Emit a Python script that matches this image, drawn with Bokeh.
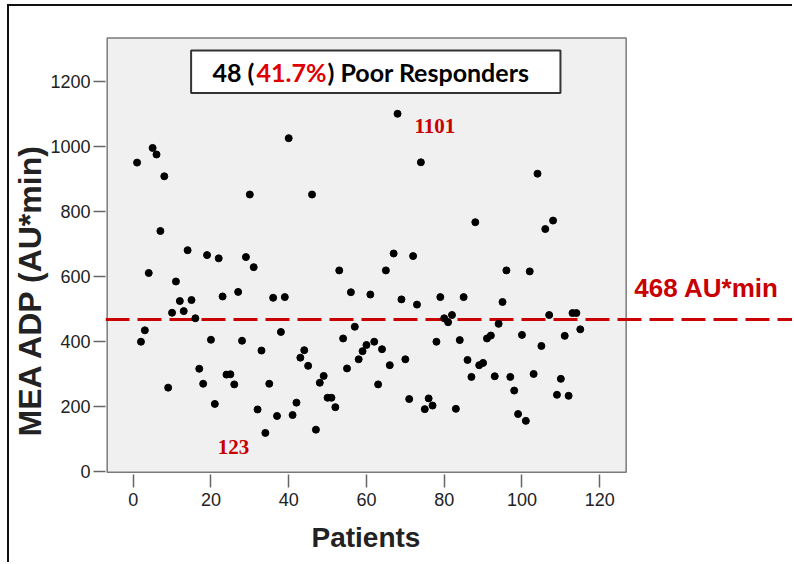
from bokeh.plotting import figure
from bokeh.models import (Range1d, FixedTicker, BoxAnnotation, Span, Label, Title)
from bokeh.embed import file_html
from bokeh.resources import INLINE

# ---------------- data ----------------
patients = list(range(1, 116))
mea_adp = [
    950, 400, 435, 611, 995, 975, 740, 908, 259, 489,
    585, 525, 494, 681, 528, 472, 317, 271, 666, 406,
    209, 656, 539, 299, 300, 269, 553, 403, 660, 852,
    629, 192, 373, 120, 271, 535, 172, 430, 537, 1025,
    175, 213, 351, 374, 326, 852, 130, 274, 295, 228,
    228, 199, 619, 410, 318, 552, 446, 346, 371, 390,
    545, 400, 269, 377, 619, 328, 671, 1100, 530, 346,
    224, 663, 514, 951, 193, 226, 204, 400, 537, 472,
    460, 482, 194, 405, 537, 344, 292, 767, 328, 335,
    410, 419, 294, 455, 522, 619, 292, 250, 178, 421,
    157, 616, 301, 916, 387, 746, 482, 772, 237, 286,
    418, 234, 488, 488, 438,
]
threshold = 468
x_ticks = [0, 20, 40, 60, 80, 100, 120]
y_ticks = [0, 200, 400, 600, 800, 1000, 1200]
title_parts = ["48 (", "41.7%", ") Poor Responders"]
threshold_label = "468 AU*min"
max_label = "1101"
min_label = "123"
x_title = "Patients"
y_title = "MEA ADP (AU*min)"

RED = "#c80000"

p = figure(width=785, height=558, output_backend="svg", toolbar_location=None,
           x_range=Range1d(-7.12, 170.1), y_range=Range1d(-7.7, 1340.3),
           min_border_left=96, min_border_right=0, min_border_top=29,
           min_border_bottom=90)
p.styles = {"margin-left": "7px", "margin-top": "4px",
            "border-left": "2px solid #111", "border-top": "2px solid #111"}
p.background_fill_color = "white"
p.border_fill_color = "white"
p.outline_line_color = None
p.xgrid.visible = False
p.ygrid.visible = False

# gray plotting area with frame
p.add_layout(BoxAnnotation(left=-6.69, right=126.8, bottom=-0.5, top=1333,
                           fill_color="#f0f0f0", fill_alpha=1.0,
                           line_color="#7a7a7a", line_alpha=1.0, line_width=1.5,
                           level="underlay"))

# threshold line
p.add_layout(Span(location=threshold, dimension="width", line_color=RED,
                  line_width=3, line_dash="24 8", level="underlay"))

p.scatter(patients, mea_adp, size=7, color="black")

for ax, ticks in ((p.xaxis, x_ticks), (p.yaxis, y_ticks)):
    ax.ticker = FixedTicker(ticks=ticks)
    ax.axis_line_color = None
    ax.major_tick_in = 0
    ax.minor_tick_line_color = None
    ax.major_tick_line_color = "#666666"
    ax.major_tick_line_width = 1.5
    ax.major_label_text_font = "Liberation Sans"
    ax.major_label_text_font_size = "18px"
    ax.major_label_text_color = "#222222"
p.xaxis.major_tick_out = 13
p.xaxis.major_label_standoff = 5
p.yaxis.major_tick_out = 12
p.yaxis.major_label_standoff = 3

# axis titles
p.add_layout(Title(text=x_title, align="left", offset=206, standoff=22,
                   text_font="Liberation Sans", text_font_style="bold",
                   text_font_size="28px", text_color="#222222"), "below")
p.add_layout(Title(text=y_title, align="left", offset=38, standoff=0,
                   text_font="Liberation Sans", text_font_style="bold",
                   text_font_size="32px", text_color="#222222"), "left")

# title box
p.add_layout(BoxAnnotation(left=14.9, right=109.9, bottom=1164, top=1294,
                           fill_color="white", fill_alpha=1.0,
                           line_color="#333333", line_alpha=1.0, line_width=2))
ty = 1227.6
p.add_layout(Label(x=31.2, y=ty, text=title_parts[0], text_align="right",
                   text_baseline="middle", text_font="Lato",
                   text_font_style="bold", text_font_size="25px",
                   text_color="black"))
p.add_layout(Label(x=40.7, y=ty, text=title_parts[1], text_align="center",
                   text_baseline="middle", text_font="Lato",
                   text_font_style="bold", text_font_size="25px",
                   text_color="#e00000"))
p.add_layout(Label(x=49.97, y=ty, text=title_parts[2], text_align="left",
                   text_baseline="middle", text_font="Lato",
                   text_font_style="bold", text_font_size="25px",
                   text_color="black"))

# annotations
p.add_layout(Label(x=128.9, y=563.5, text=threshold_label, text_align="left",
                   text_baseline="middle", text_font="Liberation Sans",
                   text_font_style="bold", text_font_size="26px",
                   text_color=RED))
p.add_layout(Label(x=72.35, y=1061, text=max_label, text_align="left",
                   text_baseline="middle", text_font="Liberation Serif",
                   text_font_style="bold", text_font_size="21px",
                   text_color=RED))
p.add_layout(Label(x=21.76, y=76, text=min_label, text_align="left",
                   text_baseline="middle", text_font="Liberation Serif",
                   text_font_style="bold", text_font_size="21px",
                   text_color=RED))

open("out.html", "w").write(file_html(p, INLINE))
